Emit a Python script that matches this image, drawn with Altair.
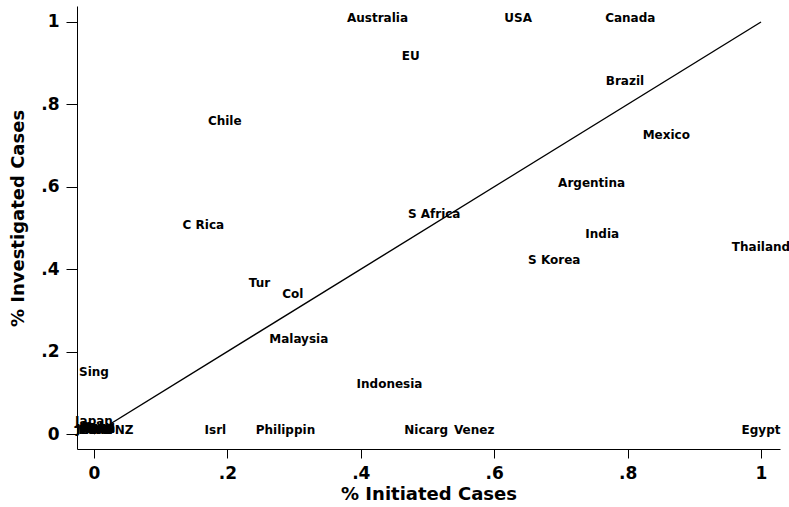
import altair as alt
import pandas as pd

countries = ["Australia", "USA", "Canada", "EU", "Brazil", "Chile", "Mexico",
             "Argentina", "S Africa", "C Rica", "India", "Thailand", "S Korea",
             "Tur", "Col", "Malaysia", "Sing", "Indonesia", "Japan", "NZ",
             "Isrl", "Philippin", "Nicarg", "Venez", "Egypt",
             "Peru", "Ecua", "Trin", "Para", "Urug", "Jama", "Guat", "Hond",
             "Bolv", "Pana"]
initiated = [0.425, 0.636, 0.804, 0.475, 0.796, 0.196, 0.858,
             0.746, 0.510, 0.164, 0.762, 1.0, 0.690,
             0.248, 0.298, 0.307, 0.0, 0.443, 0.0, 0.045,
             0.182, 0.287, 0.498, 0.570, 1.0,
             0.0, 0.004, 0.008, 0.002, 0.006, -0.002, 0.001, 0.005,
             0.003, 0.007]
investigated = [1.0, 1.0, 1.0, 0.908, 0.847, 0.750, 0.716,
                0.600, 0.524, 0.498, 0.476, 0.444, 0.413,
                0.357, 0.330, 0.221, 0.141, 0.112, 0.022, 0.0,
                0.0, 0.0, 0.0, 0.0, 0.0,
                0.0, 0.0, 0.004, 0.0, 0.008, 0.003, 0.006, 0.002,
                0.007, 0.005]

line_x = [0.0, 1.0]
line_y = [0.0, 1.0]
tick_vals = [0, 0.2, 0.4, 0.6, 0.8, 1.0]

pts = pd.DataFrame({"country": countries, "x": initiated, "y": investigated})
diag = pd.DataFrame({"x": line_x, "y": line_y})

FONT = "DejaVu Sans"
lab = "datum.value == 0 ? '0' : datum.value == 1 ? '1' : '.' + format(datum.value * 10, 'd')"

xscale = alt.Scale(domain=[-0.0255, 1.0285], nice=False, zero=False)
yscale = alt.Scale(domain=[-0.0364, 1.0388], nice=False, zero=False)

xaxis = alt.Axis(values=tick_vals, labelExpr=lab, title="% Initiated Cases",
                 tickSize=9, labelPadding=7, labelFont=FONT, labelFontSize=17,
                 labelFontWeight="bold", titleFont=FONT, titleFontSize=18,
                 titleFontWeight="bold", titleY=45, titleBaseline="middle",
                 grid=False, domainColor="black", tickColor="black",
                 labelColor="black", titleColor="black", labelFlush=False)
yaxis = alt.Axis(values=tick_vals, labelExpr=lab, title="% Investigated Cases",
                 tickSize=11, labelPadding=7, labelFont=FONT, labelFontSize=17,
                 labelFontWeight="bold", titleFont=FONT, titleFontSize=18,
                 titleFontWeight="bold", titleX=-59, titleY=212,
                 titleBaseline="middle",
                 grid=False, domainColor="black", tickColor="black",
                 labelColor="black", titleColor="black", labelFlush=False)

line = alt.Chart(diag).mark_line(color="black", strokeWidth=1.4).encode(
    x=alt.X("x:Q", scale=xscale, axis=xaxis),
    y=alt.Y("y:Q", scale=yscale, axis=yaxis),
)

labels = alt.Chart(pts).mark_text(
    align="center", baseline="middle", dy=-4, font=FONT, fontSize=12,
    fontWeight="bold", color="black"
).encode(
    x=alt.X("x:Q", scale=xscale, axis=xaxis),
    y=alt.Y("y:Q", scale=yscale, axis=yaxis),
    text="country:N",
)

chart = alt.layer(line, labels).properties(
    width=703, height=443,
    autosize=alt.AutoSizeParams(type="none"),
    padding={"left": 77, "top": 6, "right": 9, "bottom": 58},
    background="white",
).configure_view(stroke=None)

chart.save("out.html", embed_options={"renderer": "svg", "actions": False})
